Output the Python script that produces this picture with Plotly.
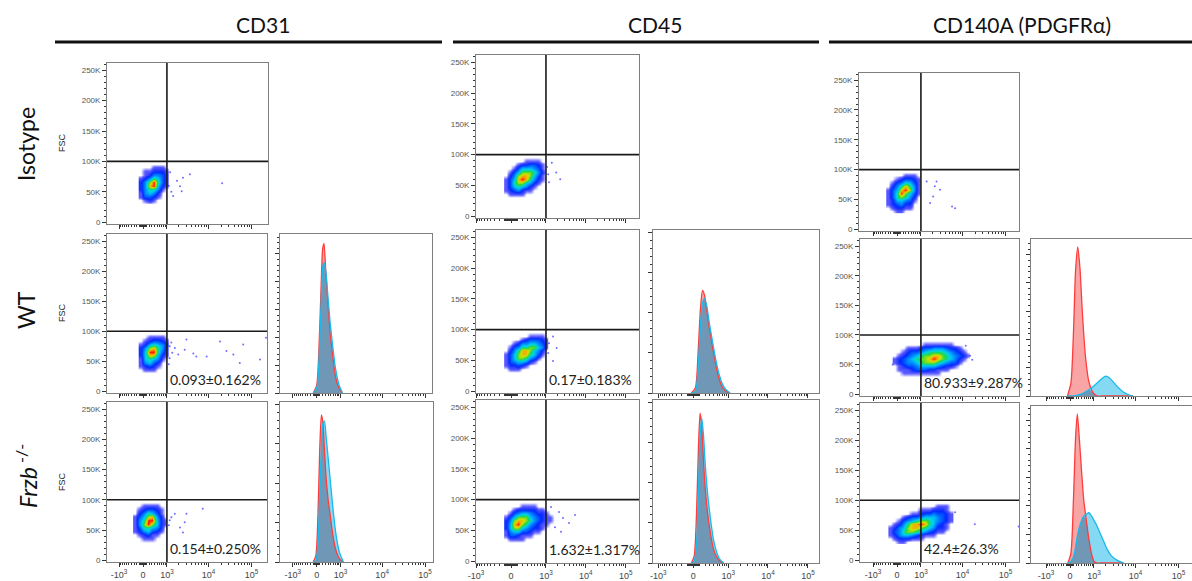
import numpy as np
import plotly.graph_objects as go

W, H = 1192, 581

# ---------------------------------------------------------------- labels
MARKERS = ["CD31", "CD45", "CD140A (PDGFRα)"]
GROUPS = ["Isotype", "WT", "<i>Frzb</i><sup> -/-</sup>"]
PCT_WT = ["0.093±0.162%", "0.17±0.183%", "80.933±9.287%"]
PCT_KO = ["0.154±0.250%", "1.632±1.317%", "42.4±26.3%"]

# ---------------------------------------------------------------- scales
# fluorescence axes: biexponential (arcsinh) display, in decades from zero
LIN_WIDTH = [602.0, 272.0, 602.0]
X_TICK_VALUES = [-1000, 0, 1000, 10000, 100000]
X_TICK_TEXT = ["-10<sup>3</sup>", "0", "10<sup>3</sup>", "10<sup>4</sup>", "10<sup>5</sup>"]
X_MINOR_VALUES = (list(range(-900, -100, 100)) + list(range(-100, 101, 10))
                  + list(range(200, 1000, 100)) + list(range(2000, 10000, 1000))
                  + list(range(20000, 100000, 10000)))
FSC_TICK_VALUES = [0, 50000, 100000, 150000, 200000, 250000]
FSC_TICK_TEXT = ["0", "50K", "100K", "150K", "200K", "250K"]
GATE_MARKER = 1000
GATE_FSC = 100000

# ---------------------------------------------------------------- dot plots
# density grids (0-9), one string per FSC row from 96K down to 30K,
# columns every 0.1 display decades starting at CLOUD_X0
CLOUD_DX = 0.1
CLOUD_DY = 6000
CLOUD_TOP = 96000

CLOUD_CD31_ISO = ["0000000", "0001110", "0112221", "0124431", "1246531", "2479631",
                  "2489521", "2466410", "1454200", "1332100", "0121000", "0000000"]
CLOUD_CD31_WT = ["0000000", "0011110", "0123321", "1256542", "2478641", "2599631",
                 "2588521", "1565410", "1453200", "1232100", "0111000", "0000000"]
CLOUD_CD31_KO = ["00000000", "00111100", "01233210", "02465310", "13578420", "14699521",
                 "14797521", "13665420", "12453210", "01231100", "00111000", "00000000"]
CLOUD_CD45_ISO = ["00000000000", "00000111100", "00012233210", "00135554310",
                  "01357776420", "02478875310", "13589864210", "13677542100",
                  "13565421000", "12342110000", "01111000000", "00000000000"]
CLOUD_CD45_WT = ["00000000000", "00000011110", "00001233321", "00124455431",
                 "01346677541", "02468875420", "13578865310", "13577643100",
                 "13455421000", "12232100000", "01110000000", "00000000000"]
CLOUD_CD45_KO = ["0000000000000", "0000111100000", "0012222211000", "0134554322100",
                 "1357775432110", "2478876432110", "2589764321100", "2577543221000",
                 "1455332110000", "1332111000000", "0111100000000", "0000000000000"]
CLOUD_CD140_ISO = ["00000000", "00001110", "00123321", "01346531", "02468641", "13589741",
                   "13697531", "13676420", "12554310", "12342200", "01221100", "00110000"]
CLOUD_CD140_WT = ["000000000000000000", "000000000000000000", "000000011111110000",
                  "000111233444322100", "001233456666543210", "012345677887654321",
                  "123456778987654210", "123445677765433100", "012334555543221000",
                  "011123332211100000", "001111111110000000", "000000000000000000"]
CLOUD_CD140_KO = ["000000000000000", "000000000001110", "000000011122210",
                  "000001123343321", "000123345554321", "001345677654321",
                  "012468898653210", "124578876542210", "134677654321100",
                  "124554321110000", "012221110000000", "001100000000000"]
CLOUD_X0 = [-0.05, -0.05, -0.18, -0.12, -0.12, -0.12, -0.20, -0.05, -0.15]

# sparse events outside the main population (display decades, FSC)
OUT_CD31_ISO = ([0.63, 0.79, 0.86, 0.93, 1.09, 0.90, 1.84, 0.70, 0.60, 0.66],
                [82e3, 68e3, 59e3, 73e3, 79e3, 51e3, 64e3, 43e3, 60e3, 50e3])
OUT_CD31_WT = ([0.66, 0.74, 0.82, 0.97, 1.01, 1.17, 1.24, 1.48, 1.79, 1.94, 2.10, 2.33,
                2.25, 2.72, 2.86, 0.62, 0.62, 0.68, 0.60],
               [81e3, 72e3, 61e3, 69e3, 86e3, 63e3, 58e3, 58e3, 83e3, 67e3, 61e3, 78e3,
                47e3, 53e3, 89e3, 75e3, 55e3, 64e3, 45e3])
OUT_CD31_KO = ([0.62, 0.74, 0.86, 0.97, 1.01, 1.39, 0.93, 0.60, 0.66],
               [66e3, 77e3, 54e3, 63e3, 77e3, 85e3, 46e3, 58e3, 71e3])
OUT_CD45_ISO = ([1.02, 1.13, 1.23, 0.93, 0.90, 0.95],
                [87e3, 71e3, 60e3, 68e3, 80e3, 55e3])
OUT_CD45_WT = ([1.05, 1.14, 1.05, 0.93, 0.95],
               [89e3, 70e3, 49e3, 62e3, 78e3])
OUT_CD45_KO = ([1.20, 1.30, 1.45, 1.10, 1.60, 1.25, 1.00],
               [80e3, 70e3, 62e3, 55e3, 75e3, 48e3, 88e3])
OUT_CD140_ISO = ([0.69, 0.88, 1.00, 0.84, 0.77, 1.28, 1.35, 0.92],
                 [80e3, 72e3, 66e3, 55e3, 44e3, 38e3, 35e3, 80e3])
OUT_CD140_WT = ([1.70, 1.75, -0.10, 1.60],
                [65e3, 58e3, 50e3, 82e3])
OUT_CD140_KO = ([1.81, 2.83, 1.35],
                [60e3, 56e3, 80e3])

# ---------------------------------------------------------------- histograms
# x in display decades; heights in % of panel height (isotype red, stain blue)
HX_CD31_WT = [-0.08, 0.00, 0.05, 0.10, 0.14, 0.17, 0.21, 0.26, 0.31, 0.37, 0.44, 0.52, 0.60]
HI_CD31_WT = [0, 5, 26, 65, 91, 94, 77, 57, 39, 24, 10, 3, 0]
HS_CD31_WT = [0, 3, 19, 54, 79, 82, 77, 61, 45, 30, 15, 5, 0]

HX_CD31_KO = [-0.08, -0.02, 0.03, 0.07, 0.11, 0.14, 0.18, 0.22, 0.27, 0.32, 0.38, 0.45, 0.53, 0.62]
HI_CD31_KO = [0, 4, 30, 70, 92, 88, 70, 52, 38, 28, 16, 7, 2, 0]
HS_CD31_KO = [0, 1, 12, 42, 72, 86, 88, 78, 64, 50, 33, 17, 6, 0]

HX_CD45_WT = [-0.05, 0.05, 0.12, 0.18, 0.23, 0.28, 0.34, 0.40, 0.47, 0.55, 0.63, 0.72, 0.82, 0.92]
HI_CD45_WT = [0, 3, 25, 52, 63, 60, 50, 40, 30, 19, 10, 4, 1, 0]
HS_CD45_WT = [0, 1, 15, 42, 55, 58, 53, 43, 33, 22, 13, 6, 2, 0]

HX_CD45_KO = [-0.05, 0.02, 0.08, 0.13, 0.17, 0.21, 0.25, 0.30, 0.36, 0.43, 0.50, 0.58, 0.67, 0.76]
HI_CD45_KO = [0, 4, 30, 72, 92, 84, 65, 45, 30, 18, 9, 4, 1, 0]
HS_CD45_KO = [0, 1, 12, 45, 78, 89, 80, 60, 42, 27, 15, 7, 2, 0]

HX_CD140_WT = [-0.06, 0.02, 0.08, 0.13, 0.18, 0.23, 0.29, 0.36, 0.44, 0.54, 0.64, 0.74,
               0.83, 0.92, 1.02, 1.12, 1.24, 1.36, 1.46]
HI_CD140_WT = [0, 8, 40, 80, 95, 82, 52, 25, 9, 2, 0, 0, 0, 0, 0, 0, 0, 0, 0]
HS_CD140_WT = [0, 0, 0, 0.3, 0.6, 1, 1.6, 2.6, 4, 6, 8.5, 11, 12.7, 11.5, 8.5, 5.5, 2.5, 0.8, 0]

HX_CD140_KO = [-0.05, 0.02, 0.08, 0.13, 0.17, 0.22, 0.27, 0.32, 0.38, 0.44, 0.50, 0.56,
               0.62, 0.70, 0.78, 0.86, 0.95, 1.05, 1.15, 1.25]
HI_CD140_KO = [0, 6, 40, 80, 95, 78, 58, 40, 27, 15, 6, 1, 0, 0, 0, 0, 0, 0, 0, 0]
HS_CD140_KO = [0, 1, 4, 10, 17, 23, 27, 30, 31, 32, 30, 27, 24, 19, 14, 9, 5, 2.5, 1, 0]

# ---------------------------------------------------------------- styling
FLOW_SCALE = [[0.0, "rgba(0,0,255,0)"], [0.1, "rgba(20,20,255,0.7)"], [0.25, "rgb(0,40,255)"],
              [0.45, "rgb(0,140,255)"], [0.6, "rgb(0,215,235)"], [0.72, "rgb(30,215,70)"],
              [0.84, "rgb(215,230,0)"], [0.93, "rgb(255,140,0)"], [1.0, "rgb(255,20,0)"]]
FRAME = "#7f7f7f"
TICK = "#333333"
LABEL_FONT = "Lato, 'Open Sans', sans-serif"
AXIS_FONT = "Liberation Sans, Arial, sans-serif"

# panel geometry in page pixels: (left, right, top, bottom), zero pixel, px per decade
DOT_PANELS = [
    (0, 0, (107, 268, 63, 224), 143.0, 43.0, CLOUD_CD31_ISO, OUT_CD31_ISO, None),
    (0, 1, (107, 267, 234, 393), 143.0, 43.0, CLOUD_CD31_WT, OUT_CD31_WT, PCT_WT[0]),
    (0, 2, (107, 267, 402, 562), 143.0, 43.0, CLOUD_CD31_KO, OUT_CD31_KO, PCT_KO[0]),
    (1, 0, (476, 639, 55, 218), 511.0, 40.0, CLOUD_CD45_ISO, OUT_CD45_ISO, None),
    (1, 1, (476, 639, 230, 393), 511.0, 40.0, CLOUD_CD45_WT, OUT_CD45_WT, PCT_WT[1]),
    (1, 2, (476, 639, 400, 563), 511.0, 40.0, CLOUD_CD45_KO, OUT_CD45_KO, PCT_KO[1]),
    (2, 0, (859, 1019, 73, 231), 897.0, 43.0, CLOUD_CD140_ISO, OUT_CD140_ISO, None),
    (2, 1, (860, 1019, 239, 396), 897.0, 43.0, CLOUD_CD140_WT, OUT_CD140_WT, PCT_WT[2]),
    (2, 2, (860, 1019, 403, 562), 897.0, 43.0, CLOUD_CD140_KO, OUT_CD140_KO, PCT_KO[2]),
]
HIST_PANELS = [
    (0, 1, (280, 432, 234, 393), 316.7, 43.0, HX_CD31_WT, HI_CD31_WT, HS_CD31_WT, 17.5),
    (0, 2, (280, 433, 402, 562), 316.7, 43.0, HX_CD31_KO, HI_CD31_KO, HS_CD31_KO, 24.6),
    (1, 1, (653, 819, 230, 393), 693.3, 40.0, HX_CD45_WT, HI_CD45_WT, HS_CD45_WT, 24.6),
    (1, 2, (653, 819, 400, 563), 693.3, 40.0, HX_CD45_KO, HI_CD45_KO, HS_CD45_KO, 24.6),
    (2, 1, (1031, 1192, 239, 396), 1070.0, 43.0, HX_CD140_WT, HI_CD140_WT, HS_CD140_WT, 18.0),
    (2, 2, (1031, 1192, 406, 563), 1070.0, 43.0, HX_CD140_KO, HI_CD140_KO, HS_CD140_KO, 18.2),
]


def biex(v, c):
    return np.arcsinh(np.asarray(v, dtype=float) / c) / np.log(10)


traces = []
shapes = []
annotations = []
layout = dict(width=W, height=H, autosize=False, margin=dict(l=0, r=0, t=0, b=0, pad=0),
              paper_bgcolor="white", plot_bgcolor="white", showlegend=False)
counter = [0]


def new_axes(col, row, box, zero, ppd, mirror_right=True):
    counter[0] += 1
    n = counter[0]
    s = "" if n == 1 else str(n)
    l, r, t, b = box
    c = LIN_WIDTH[col]
    layout["xaxis" + s] = dict(
        domain=[l / W, r / W], anchor="y" + s, range=[(l - zero) / ppd, (r - zero) / ppd],
        automargin=False,
        showgrid=False, zeroline=False, showline=True, mirror=True, linecolor=FRAME, linewidth=1,
        ticks="outside", ticklen=4, tickwidth=1, tickcolor=TICK,
        tickmode="array", tickvals=list(biex(X_TICK_VALUES, c)), ticktext=X_TICK_TEXT,
        showticklabels=(row == 2), tickfont=dict(family=AXIS_FONT, size=9, color="#444"),
        minor=dict(ticks="outside", ticklen=2, tickwidth=1, tickcolor=TICK,
                   tickmode="array", tickvals=list(biex(X_MINOR_VALUES, c))),
        fixedrange=True)
    layout["yaxis" + s] = dict(
        domain=[1 - b / H, 1 - t / H], anchor="x" + s, automargin=False,
        showgrid=False, zeroline=False, showline=True, mirror=mirror_right, linecolor=FRAME,
        linewidth=1, ticks="outside", ticklen=4, tickwidth=1, tickcolor=TICK, fixedrange=True)
    return s


# dot plots
for k, (col, row, box, zero, ppd, cloud, outliers, pct) in enumerate(DOT_PANELS):
    s = new_axes(col, row, box, zero, ppd)
    layout["yaxis" + s].update(
        range=[-3000, 262000], tickmode="array", tickvals=FSC_TICK_VALUES, ticktext=FSC_TICK_TEXT,
        tickfont=dict(family=AXIS_FONT, size=8, color="#555"),
        minor=dict(ticks="outside", ticklen=2, tickwidth=1, tickcolor=TICK, dtick=10000, tick0=0))
    rows = [[int(ch) for ch in line] for line in cloud][::-1]
    ys = [CLOUD_TOP - CLOUD_DY * (len(cloud) - 1 - i) for i in range(len(cloud))]
    xs = [CLOUD_X0[k] + CLOUD_DX * j for j in range(len(cloud[0]))]
    traces.append(go.Heatmap(x=xs, y=ys, z=rows, zmin=0, zmax=9, colorscale=FLOW_SCALE,
                             zsmooth="best", showscale=False, hoverinfo="skip",
                             xaxis="x" + s, yaxis="y" + s))
    traces.append(go.Scatter(x=outliers[0], y=outliers[1], mode="markers",
                             marker=dict(size=2, color="rgb(60,60,255)", opacity=0.75),
                             hoverinfo="skip", xaxis="x" + s, yaxis="y" + s))
    gx = float(biex(GATE_MARKER, LIN_WIDTH[col]))
    shapes.append(dict(type="line", xref="x" + s, yref="y" + s + " domain", x0=gx, x1=gx,
                       y0=0, y1=1, line=dict(color="#1a1a1a", width=1.6)))
    shapes.append(dict(type="line", xref="x" + s + " domain", yref="y" + s, x0=0, x1=1,
                       y0=GATE_FSC, y1=GATE_FSC, line=dict(color="#1a1a1a", width=1.6)))
    if pct:
        annotations.append(dict(x=gx, y=19000, xref="x" + s, yref="y" + s, text=pct,
                                xanchor="left", yanchor="middle", xshift=1, showarrow=False,
                                font=dict(family=LABEL_FONT, size=14, color="#222")))

# histogram overlays
RED_FILL, RED_LINE = "rgb(249,165,165)", "rgb(255,60,60)"
BLUE_FILL, BLUE_LINE = "rgb(134,217,243)", "rgb(25,185,235)"
BOTH_FILL = "rgb(112,152,182)"
for col, row, box, zero, ppd, hx, hiso, hstain, dtick in HIST_PANELS:
    s = new_axes(col, row, box, zero, ppd, mirror_right=(box[1] < W))
    layout["yaxis" + s].update(
        range=[0, 100], tickmode="linear", tick0=0, dtick=dtick, showticklabels=False,
        minor=dict(ticks="outside", ticklen=2, tickwidth=1, tickcolor=TICK, dtick=dtick / 5, tick0=0))
    common = dict(x=hx, mode="lines", hoverinfo="skip", xaxis="x" + s, yaxis="y" + s)
    spline = dict(shape="spline", smoothing=0.7)
    traces.append(go.Scatter(y=hiso, fill="tozeroy", fillcolor=RED_FILL,
                             line=dict(width=0, color=RED_FILL, **spline), **common))
    traces.append(go.Scatter(y=hstain, fill="tozeroy", fillcolor=BLUE_FILL,
                             line=dict(width=0, color=BLUE_FILL, **spline), **common))
    traces.append(go.Scatter(y=list(np.minimum(hiso, hstain)), fill="tozeroy", fillcolor=BOTH_FILL,
                             line=dict(width=0, color=BOTH_FILL, **spline), **common))
    traces.append(go.Scatter(y=hiso, line=dict(width=1.3, color=RED_LINE, **spline), **common))
    traces.append(go.Scatter(y=hstain, line=dict(width=1.3, color=BLUE_LINE, **spline), **common))

# column headers with rules
HEADER_X = [263, 655, 1022]
HEADER_RULES = [(55, 442), (453, 819), (829, 1192)]
for name, cx, (x0, x1) in zip(MARKERS, HEADER_X, HEADER_RULES):
    annotations.append(dict(x=cx / W, y=1 - 24 / H, xref="paper", yref="paper", text=name,
                            showarrow=False, xanchor="center", yanchor="middle",
                            font=dict(family=LABEL_FONT, size=21, color="#111")))
    shapes.append(dict(type="line", xref="paper", yref="paper", x0=x0 / W, x1=x1 / W,
                       y0=1 - 42 / H, y1=1 - 42 / H, line=dict(color="#111", width=3)))

# row labels and FSC axis titles
ROW_Y = [144, 310, 476]
FSC_Y = [143, 313, 482]
for name, ry, fy in zip(GROUPS, ROW_Y, FSC_Y):
    annotations.append(dict(x=26 / W, y=1 - ry / H, xref="paper", yref="paper", text=name,
                            textangle=-90, showarrow=False, xanchor="center", yanchor="middle",
                            font=dict(family=LABEL_FONT, size=23, color="#111")))
    annotations.append(dict(x=62 / W, y=1 - fy / H, xref="paper", yref="paper", text="FSC",
                            textangle=-90, showarrow=False, xanchor="center", yanchor="middle",
                            font=dict(family=AXIS_FONT, size=9, color="#222")))

layout["shapes"] = shapes
layout["annotations"] = annotations
fig = go.Figure(data=traces, layout=layout)
# page without body margin or scrollbars so the figure sits at the window origin
fig.write_html("out.html",
               post_script="document.body.style.margin='0';"
                           "document.body.style.overflow='hidden';")
